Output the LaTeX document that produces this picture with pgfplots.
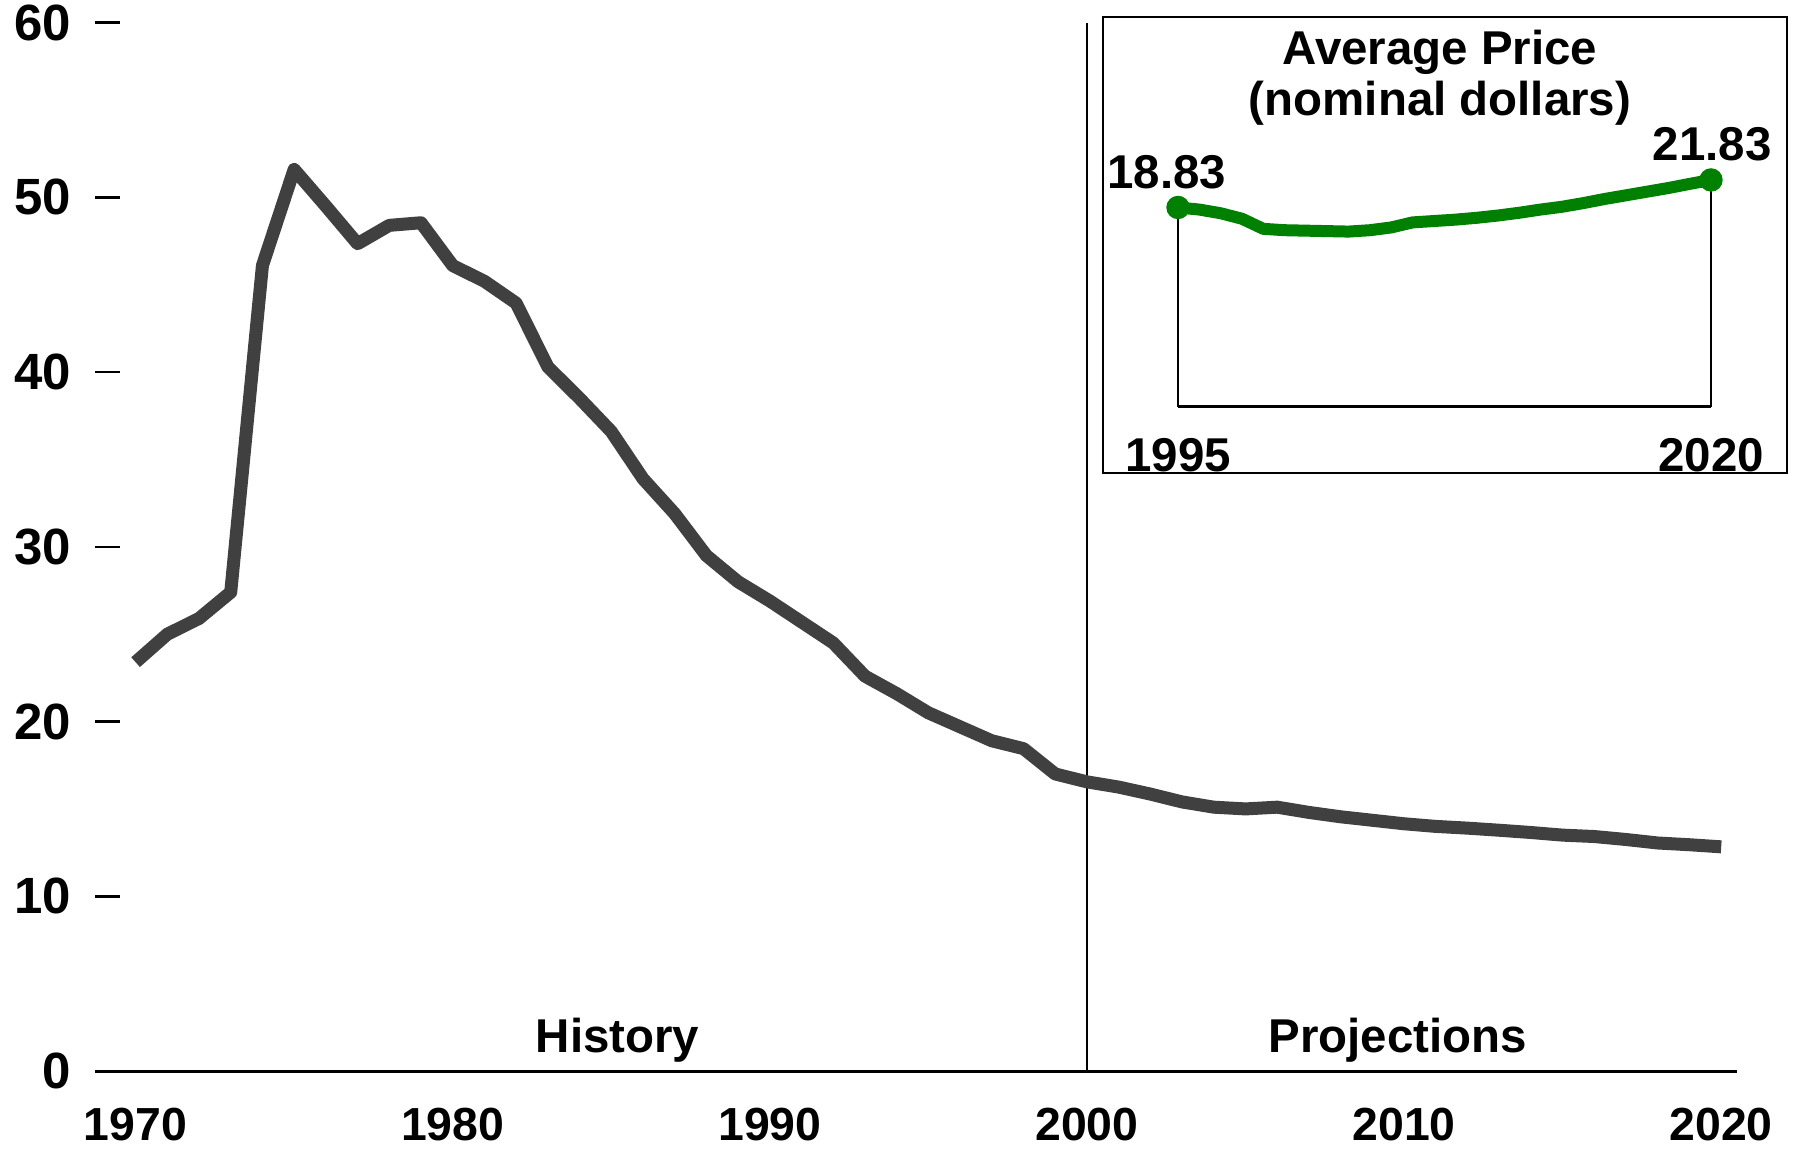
\documentclass[border=0pt]{standalone}
\usepackage{fontspec}
\setmainfont{Liberation Sans}
\usepackage{pgfplots}
\pgfplotsset{compat=1.18}
\usetikzlibrary{calc}
\definecolor{lineGray}{HTML}{404040}
\definecolor{priceGreen}{HTML}{008000}

\pgfplotstableread{
year price
1970 23.4
1971 25.0
1972 25.9
1973 27.4
1974 46.1
1975 51.6
1976 49.5
1977 47.35
1978 48.4
1979 48.55
1980 46.1
1981 45.2
1982 43.95
1983 40.3
1984 38.5
1985 36.6
1986 33.9
1987 31.9
1988 29.5
1989 28.0
1990 26.9
1991 25.7
1992 24.5
1993 22.6
1994 21.6
1995 20.5
1996 19.7
1997 18.9
1998 18.45
1999 17.0
2000 16.55
2001 16.25
2002 15.85
2003 15.4
2004 15.1
2005 15.0
2006 15.1
2007 14.8
2008 14.55
2009 14.35
2010 14.15
2011 14.0
2012 13.9
2013 13.78
2014 13.65
2015 13.5
2016 13.42
2017 13.25
2018 13.05
2019 12.95
2020 12.83
}\realprice

\pgfplotstableread{
year price
1995 18.83
1996 18.6
1997 18.2
1998 17.6
1999 16.5
2000 16.35
2001 16.3
2002 16.25
2003 16.2
2004 16.35
2005 16.65
2006 17.2
2007 17.35
2008 17.5
2009 17.7
2010 17.95
2011 18.25
2012 18.6
2013 18.9
2014 19.3
2015 19.75
2016 20.15
2017 20.55
2018 20.95
2019 21.4
2020 21.83
}\nominalprice

\newcommand{\lblfont}{\fontsize{13.5}{16}\selectfont\bfseries}

\begin{document}
\begin{tikzpicture}
% main chart
\begin{axis}[
  name=main,
  scale only axis,
  width=164.2mm, height=104.83mm,
  xmin=1968.72, xmax=2020.5,
  ymin=0, ymax=60,
  axis x line=bottom, axis y line=left,
  x axis line style={line width=0.3mm, -},
  y axis line style={draw=none},
  xtick={1970,1980,...,2020},
  ytick={0,10,...,60},
  xtick style={draw=none},
  ytick style={line width=0.25mm, black},
  tick align=inside,
  major tick length=2.5mm,
  /pgf/number format/assume math mode=true,
  /pgf/number format/1000 sep={},
  xticklabel style={font=\fontsize{13.2}{15}\selectfont\bfseries, inner sep=0pt, yshift=-3.6mm},
  yticklabel style={font=\fontsize{14.5}{16}\selectfont\bfseries, inner sep=0pt, xshift=-2.3mm},
  clip=false,
]
\addplot[black, line width=0.2mm] coordinates {(2000,0) (2000,60)};
\addplot[lineGray, line width=1.3mm, line join=round] table[x=year, y=price] {\realprice};
\node[font=\lblfont] at (axis cs:1985.2,1.77) {History};
\node[font=\lblfont] at (axis cs:2009.8,1.77) {Projections};
\end{axis}

% inset: nominal price
\begin{axis}[
  at={($(main.south west)+(108.3mm,66.43mm)$)}, anchor=south west,
  scale only axis,
  width=53.3mm, height=22.83mm,
  xmin=1995, xmax=2020, ymin=-2.89, ymax=22,
  axis x line=bottom, axis y line=none,
  x axis line style={line width=0.25mm, -},
  xtick={1995,2020}, xtick style={draw=none},
  /pgf/number format/assume math mode=true,
  /pgf/number format/1000 sep={},
  xticklabel style={font=\lblfont, inner sep=0pt, yshift=-2.3mm},
  clip=false,
]
\addplot[black, line width=0.25mm] coordinates {(1995,-2.89) (1995,18.83)};
\addplot[black, line width=0.25mm] coordinates {(2020,-2.89) (2020,21.83)};
\addplot[priceGreen, line width=1.2mm, line join=round] table[x=year, y=price] {\nominalprice};
\addplot[priceGreen, only marks, mark=*, mark size=1.1mm] coordinates {(1995,18.83) (2020,21.83)};
\node[font=\lblfont] at (rel axis cs:0.4916,1.554) {Average Price};
\node[font=\lblfont] at (rel axis cs:0.4916,1.330) {(nominal dollars)};
\node[font=\lblfont] at (rel axis cs:-0.021,1.028) {18.83};
\node[font=\lblfont] at (rel axis cs:1.002,1.151) {21.83};
\end{axis}

\draw[line width=0.25mm] ($(main.south west)+(100.8mm,59.8mm)$) rectangle ($(main.south west)+(169.2mm,105.4mm)$);

\pgfresetboundingbox
\path ($(main.south west)+(-9.5mm,-7.8mm)$) rectangle ($(main.south west)+(170.7mm,107.1mm)$);
\end{tikzpicture}
\end{document}
